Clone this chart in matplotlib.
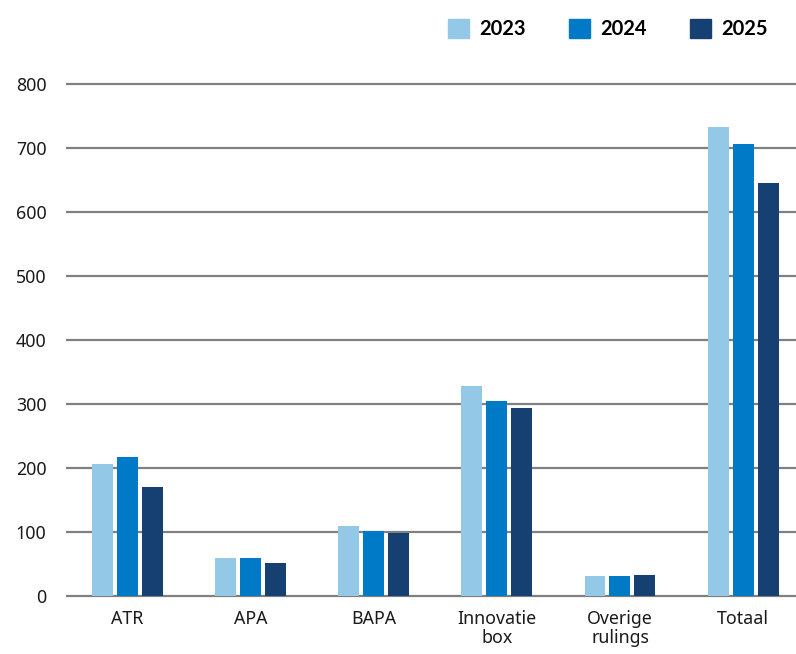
import numpy as np
import matplotlib.pyplot as plt
from matplotlib.patches import Patch

plt.rcParams['font.family'] = ['Noto Sans', 'DejaVu Sans']

categories = ['ATR', 'APA', 'BAPA', 'Innovatie\nbox', 'Overige\nrulings', 'Totaal']
years = ['2023', '2024', '2025']
v2023 = [207, 59, 109, 328, 31, 733]
v2024 = [217, 59, 101, 304, 31, 707]
v2025 = [171, 51, 98, 293, 33, 645]
yticks = [0, 100, 200, 300, 400, 500, 600, 700, 800]

colors = ['#93c9e6', '#0079c7', '#163f72']

W, H = 796, 654
fig = plt.figure(figsize=(W / 100, H / 100), dpi=100)
y_lo, y_hi = -3, 805
px_per = 64 / 100
bottom_px = 596 + (0 - y_lo) * px_per
top_px = 84 - (y_hi - 800) * px_per
ax = fig.add_axes([66 / W, (H - bottom_px) / H, 1 - 66 / W, (bottom_px - top_px) / H])

x = np.arange(len(categories))
w = 0.17
off = 0.203
for i, (vals, c) in enumerate(zip([v2023, v2024, v2025], colors)):
  ax.bar(x + (i - 1) * off, vals, width=w, color=c, zorder=3)

for t in yticks:
  ax.axhline(t, color='#808080', lw=1.6, zorder=2)

ax.set_xlim(-0.5, 5.43)
ax.set_ylim(y_lo, y_hi)
ax.set_yticks(yticks)
ax.set_yticklabels([str(t) for t in yticks])
ax.set_xticks(x)
ax.set_xticklabels(categories, linespacing=1.05)
ax.tick_params(length=0, labelsize=12.8, colors='#1a1a1a')
ax.tick_params(axis='y', pad=14)
ax.tick_params(axis='x', pad=9)
for s in ax.spines.values():
  s.set_visible(False)

handles = [Patch(color=c, label=y) for c, y in zip(colors, years)]
leg = fig.legend(handles=handles, loc='upper right', bbox_to_anchor=(786 / W, 1.0 - 1 / H),
                 ncol=3, frameon=False, handlelength=1.05, handleheight=1.05,
                 handletextpad=0.5, columnspacing=2.15,
                 prop={'family': ['Lato', 'DejaVu Sans'], 'weight': 'bold', 'size': 14.5})

fig.savefig('out.png', dpi=100)
